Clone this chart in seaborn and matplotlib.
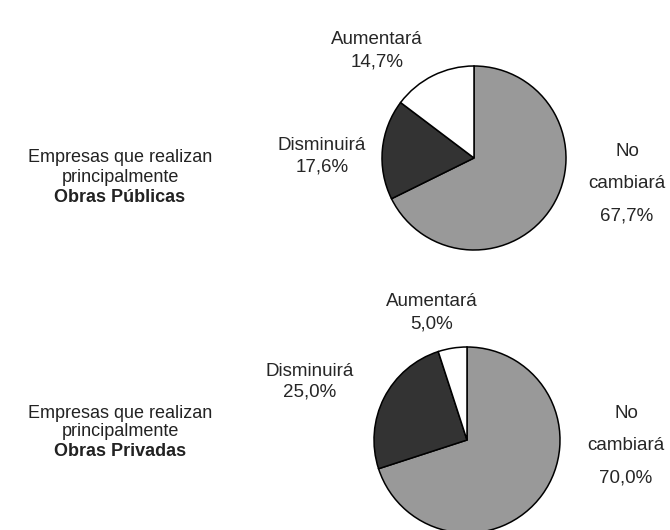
import matplotlib
matplotlib.use("Agg")
import matplotlib.pyplot as plt
import seaborn as sns

sns.set_style("white")
plt.rcParams['font.family'] = ['Liberation Sans', 'DejaVu Sans']

# data
categories = ['No\ncambiará', 'Disminuirá', 'Aumentará']
publicas = [67.7, 17.6, 14.7]
privadas = [70.0, 25.0, 5.0]
group_labels = ['Obras Públicas', 'Obras Privadas']
colors = ['#999999', '#333333', '#ffffff']

W, H = 670, 530
fig = plt.figure(figsize=(6.7, 5.3), dpi=100)
ax = fig.add_axes([0, 0, 1, 1])

def fmt(v):
    return f"{v:.1f}%".replace('.', ',')

# pie layout in pixel coords (y from bottom)
layouts = [
    dict(center=(474, H - 158), r=92, side=(120, H - 158),
         lab_no=(627, H - 152), lab_dis=(322, H - 146), lab_aum=(377, H - 40)),
    dict(center=(467, H - 440), r=93, side=(120, H - 413),
         lab_no=(626, H - 414), lab_dis=(310, H - 371), lab_aum=(432, H - 302)),
]

fs = 13.5
for vals, grp, lay in zip([publicas, privadas], group_labels, layouts):
    ax.pie(vals, colors=colors, startangle=90, counterclock=False,
           center=lay['center'], radius=lay['r'],
           wedgeprops=dict(edgecolor='black', linewidth=1.1))
    sx, sy = lay['side']
    ax.text(sx, sy, 'Empresas que realizan', ha='center', va='center', fontsize=13, color='#222222')
    ax.text(sx, sy - 19, 'principalmente', ha='center', va='center', fontsize=13, color='#222222')
    ax.text(sx, sy - 39, grp, ha='center', va='center', fontsize=13, fontweight='bold', color='#222222')
    nx, ny = lay['lab_no']
    ax.text(nx, ny, 'No', ha='center', va='center', fontsize=fs)
    ax.text(nx, ny - 32, 'cambiará', ha='center', va='center', fontsize=fs)
    ax.text(nx, ny - 64, fmt(vals[0]), ha='center', va='center', fontsize=fs)
    dx, dy = lay['lab_dis']
    ax.text(dx, dy, categories[1], ha='center', va='center', fontsize=fs)
    ax.text(dx, dy - 21, fmt(vals[1]), ha='center', va='center', fontsize=fs)
    axx, ayy = lay['lab_aum']
    ax.text(axx, ayy, categories[2], ha='center', va='center', fontsize=fs)
    ax.text(axx, ayy - 22, fmt(vals[2]), ha='center', va='center', fontsize=fs)

ax.set_xlim(0, W)
ax.set_ylim(0, H)
ax.set_aspect('equal')
ax.axis('off')

fig.savefig('out.png', dpi=100, facecolor='white')
